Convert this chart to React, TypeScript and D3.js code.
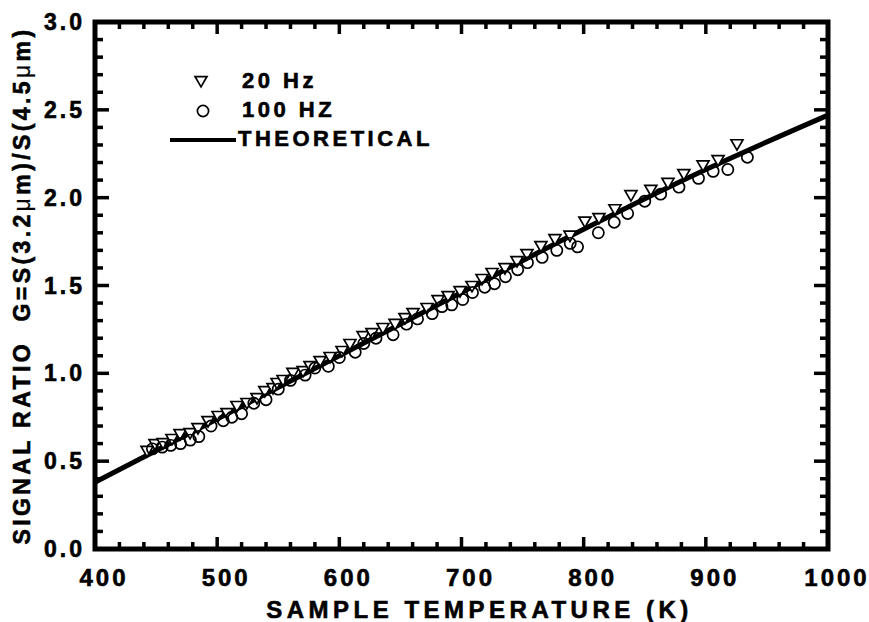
import * as d3 from 'd3';
import React from 'react';

// 20 Hz data (triangles)
const tri20Hz: [number, number][] = [
  [442.6, 0.564], [449.1, 0.603], [455.7, 0.609], [463, 0.632], [469.6, 0.66],
  [477.8, 0.666], [484.3, 0.694], [492.5, 0.734], [500.7, 0.763], [508, 0.78],
  [516.2, 0.82], [524.4, 0.837], [532.6, 0.865], [539, 0.905], [545.7, 0.922],
  [549, 0.951], [553.9, 0.968], [562, 1.008], [570.3, 1.019], [576, 1.047],
  [584.2, 1.076], [592.4, 1.099], [602.2, 1.133], [608.7, 1.173], [619.4, 1.218],
  [626.7, 1.235], [635.7, 1.264], [645.6, 1.287], [653.7, 1.32], [660.3, 1.349],
  [671.8, 1.378], [680.8, 1.423], [689, 1.446], [698.8, 1.474], [708.6, 1.503],
  [716.8, 1.543], [725, 1.577], [735.6, 1.605], [745.4, 1.645], [753.6, 1.685],
  [765, 1.73], [776.5, 1.77], [788.8, 1.79], [801, 1.87], [812.5, 1.89],
  [825.6, 1.94], [838.7, 2.02], [855, 2.05], [869, 2.09], [882, 2.14],
  [897.7, 2.19], [910, 2.22], [925.5, 2.31],
];

// 100 Hz data (circles)
const circ100Hz: [number, number][] = [
  [447, 0.57], [455, 0.58], [462, 0.59], [470, 0.6], [478, 0.62], [485, 0.64],
  [495, 0.7], [505, 0.73], [512, 0.75], [520, 0.77], [530, 0.83], [540, 0.85],
  [550, 0.91], [560, 0.96], [572, 0.99], [580, 1.03], [591, 1.04], [600, 1.09],
  [613, 1.12], [620, 1.17], [630, 1.2], [644, 1.22], [655, 1.28], [664, 1.31],
  [676, 1.34], [684, 1.38], [692, 1.39], [701, 1.42], [709, 1.46], [719, 1.49],
  [727, 1.51], [736, 1.55], [746, 1.59], [754, 1.63], [766, 1.66], [778, 1.7],
  [789, 1.74], [795, 1.72], [812, 1.8], [825, 1.86], [836, 1.91], [850, 1.98],
  [863, 2.02], [878, 2.06], [894, 2.11], [906, 2.15], [918, 2.16], [934, 2.23],
];

// theoretical curve
const theory: [number, number][] = [
  [400, 0.38], [500, 0.74], [600, 1.1], [700, 1.46], [800, 1.82], [900, 2.16], [1000, 2.47],
];

const xTicks = [400, 500, 600, 700, 800, 900, 1000];
const yTicks = [0, 0.5, 1, 1.5, 2, 2.5, 3];

const legendItems = ["20 Hz", "100 HZ", "THEORETICAL"];

const W = 869, H = 622;
const FONT = '"Liberation Sans", Arial, sans-serif';
const margin = { top: 22, right: 41, bottom: 73, left: 95 };

export default function App() {
  const x = d3.scaleLinear().domain([400, 1000])
    .range([margin.left, W - margin.right]);
  const y = d3.scaleLinear().domain([0, 3])
    .range([H - margin.bottom, margin.top]);

  const [x0, x1] = x.range();
  const [y0, y1] = y.range();

  const xMinor = x.ticks(30);   // every 20 K
  const yMinor = y.ticks(30);   // every 0.1

  const line = d3.line<[number, number]>()
    .x(d => x(d[0])).y(d => y(d[1]))
    .curve(d3.curveMonotoneX);

  const triPath = d3.symbol(d3.symbolTriangle, 62)() as string;

  // heavy bold lettering like the original print
  const bold = {
    fontFamily: FONT, fontWeight: "bold" as const,
    stroke: "#000", strokeWidth: 0.6,
  };

  return (
    <svg width={W} height={H}
      style={{ position: "absolute", left: 0, top: 0, background: "#fff" }}>
      {/* ticks, inward on all four sides */}
      <g stroke="#000" strokeWidth={3.5}>
        {xMinor.map((v, i) => {
          const len = Math.round(v) % 100 === 0 ? 12 : 7;
          return (
            <g key={"xt" + i}>
              <line x1={x(v)} x2={x(v)} y1={y0} y2={y0 - len} />
              <line x1={x(v)} x2={x(v)} y1={y1} y2={y1 + len} />
            </g>
          );
        })}
        {yMinor.map((v, i) => {
          const len = Math.round(v * 10) % 5 === 0 ? 14 : 8;
          return (
            <g key={"yt" + i}>
              <line x1={x0} x2={x0 + len} y1={y(v)} y2={y(v)} />
              <line x1={x1} x2={x1 - len} y1={y(v)} y2={y(v)} />
            </g>
          );
        })}
      </g>

      {/* frame */}
      <rect x={x0} y={y1} width={x1 - x0} height={y0 - y1}
        fill="none" stroke="#000" strokeWidth={5} />

      {/* tick labels */}
      {xTicks.map(d => (
        <text key={"xl" + d} x={x(d) + 9} y={586} textAnchor="middle"
          fontSize={24} letterSpacing={3} {...bold}>{d}</text>
      ))}
      {yTicks.map(d => (
        <text key={"yl" + d} x={x0 - 10} y={y(d) + 8} textAnchor="end"
          fontSize={23} letterSpacing={3} {...bold}>{d.toFixed(1)}</text>
      ))}

      {/* axis titles */}
      <text x={(x0 + x1) / 2 + 18} y={618} textAnchor="middle"
        fontSize={24} letterSpacing={4.5} {...bold}>SAMPLE TEMPERATURE (K)</text>
      <text transform={`translate(30,${(y0 + y1) / 2}) rotate(-90)`}
        textAnchor="middle" fontSize={23} letterSpacing={3.4} {...bold}
        style={{ whiteSpace: "pre" }}>
        <tspan>{"SIGNAL RATIO  G=S(3.2"}</tspan>
        <tspan fontWeight="normal" strokeWidth={0.2}>μ</tspan>
        <tspan>{"m)/S(4.5"}</tspan>
        <tspan fontWeight="normal" strokeWidth={0.2}>μ</tspan>
        <tspan>m)</tspan>
      </text>

      {/* theoretical line */}
      <path d={line(theory) as string} fill="none" stroke="#000" strokeWidth={5} />

      {/* markers */}
      {tri20Hz.map((d, i) => (
        <path key={"tr" + i} d={triPath}
          transform={`translate(${x(d[0])},${y(d[1])}) rotate(180)`}
          fill="#fff" stroke="#000" strokeWidth={1.7} />
      ))}
      {circ100Hz.map((d, i) => (
        <circle key={"ci" + i} cx={x(d[0])} cy={y(d[1])} r={5.6}
          fill="none" stroke="#000" strokeWidth={1.7} />
      ))}

      {/* legend */}
      <path d={triPath} transform="translate(201,80) rotate(180)"
        fill="#fff" stroke="#000" strokeWidth={1.7} />
      <circle cx={203} cy={111} r={5.6} fill="none" stroke="#000" strokeWidth={1.7} />
      <line x1={170} x2={236} y1={140} y2={140} stroke="#000" strokeWidth={4} />
      {legendItems.map((d, i) => (
        <text key={d} x={i === 2 ? 238 : 242} y={88 + i * 29}
          fontSize={22} letterSpacing={3.5} {...bold}
          style={{ whiteSpace: "pre" }}>{d}</text>
      ))}
    </svg>
  );
}
